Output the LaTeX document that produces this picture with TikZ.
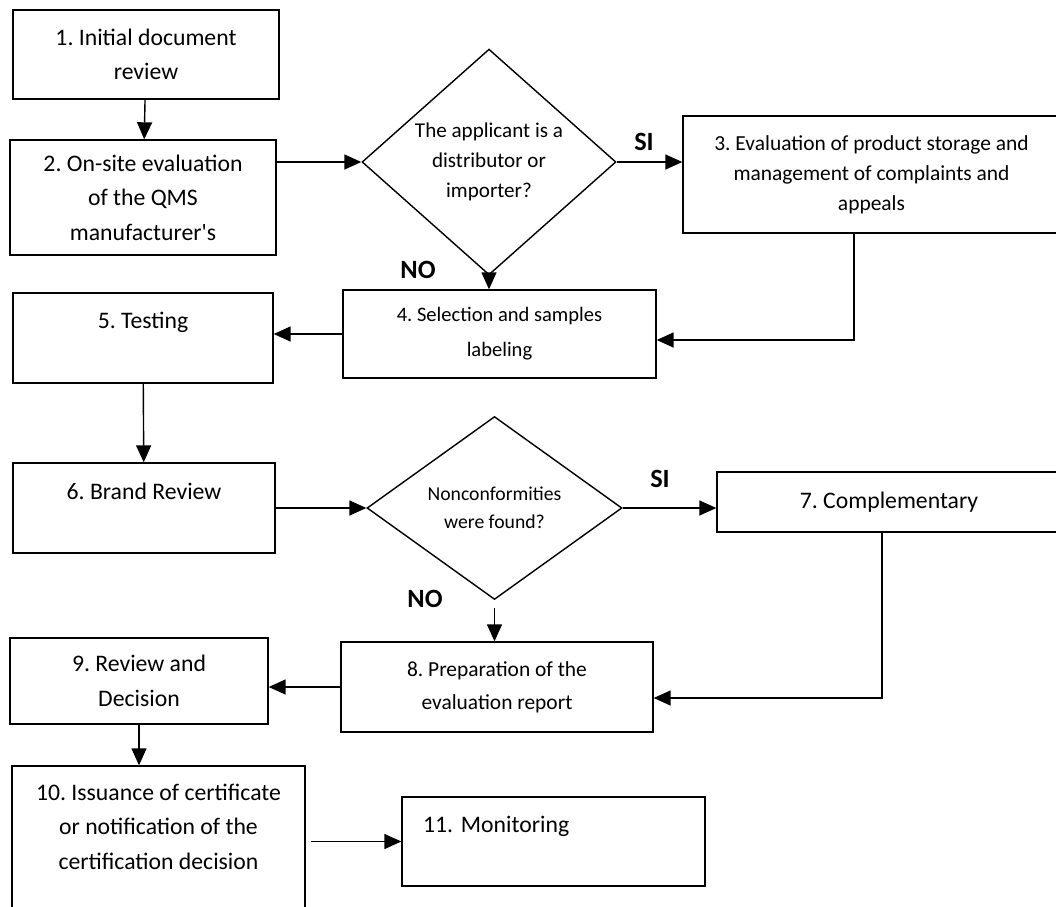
\documentclass[tikz,border=0pt]{standalone}
\usepackage{fontspec}
\setmainfont{Carlito}
\usetikzlibrary{shapes.geometric,arrows.meta}
\frenchspacing

\begin{document}
\begin{tikzpicture}[x=0.02cm,y=-0.02cm,
    every node/.style={inner sep=0pt},
    box/.style={draw, line width=0.8pt, align=center, font=\fontsize{13.5}{19.6}\selectfont},
    smallbox/.style={box, font=\fontsize{12.2}{17.2}\selectfont},
    decision/.style={draw, diamond, line width=0.8pt, align=center, font=\fontsize{12}{17}\selectfont},
    answer/.style={font=\fontsize{15}{18}\selectfont\bfseries},
    arr/.style={-{Triangle[length=0.34cm,width=0.3cm]}, line width=0.8pt}]
      \useasboundingbox (0,0) rectangle (1056,907);

      \node[box, minimum width=5.32cm, minimum height=1.78cm] (initial) at (146,54.5) {1. Initial document\\review};
      \node[box, minimum width=5.32cm, minimum height=2.3cm] (onsite) at (143,197.5) {2. On-site evaluation\\of the QMS\\manufacturer\textquotesingle s};
      \node[decision, minimum width=5.08cm, minimum height=3.64cm] (distributor) at (489,162) {The applicant is a\\distributor or\\importer?};
      \node[smallbox, minimum width=7.54cm, minimum height=2.34cm] (storage) at (871.5,174.5) {3. Evaluation of product storage and\\management of complaints and\\appeals};
      \node[smallbox, font=\fontsize{11.7}{20}\selectfont, minimum width=6.26cm, minimum height=1.76cm] (samples) at (499.5,334) {4. Selection and samples\\labeling};
      \node[box, minimum width=5.2cm, minimum height=1.8cm] (testing) at (143,338) {5. Testing\\~};
      \node[box, minimum width=5.24cm, minimum height=1.8cm] (brand) at (144,508) {6. Brand Review\\~};
      \node[decision, font=\fontsize{11.2}{15.8}\selectfont, minimum width=5.1cm, minimum height=3.66cm] (nonconf) at (494.5,508) {Nonconformities\\were found?};
      \node[box, minimum width=6.88cm, minimum height=1.2cm] (complementary) at (889,502) {7. Complementary};
      \node[smallbox, font=\fontsize{12.2}{18.8}\selectfont, minimum width=6.24cm, minimum height=1.8cm] (report) at (497,687) {8. Preparation of the\\evaluation report};
      \node[box, minimum width=5.16cm, minimum height=1.72cm] (review) at (139,681) {9. Review and\\Decision};
      \node[box, minimum width=5.86cm, minimum height=3.12cm] (issuance) at (158.5,844) {10. Issuance of certificate\\or notification of the\\certification decision\\~};
      \node[box, align=left, text width=5.22cm, inner xsep=0.42cm, minimum height=1.78cm] (monitoring) at (553.5,841.5) {11. Monitoring\\~};

      \node[answer] (yes1) at (644,142) {SI};
      \node[answer] (no1) at (418,270) {NO};
      \node[answer] (yes2) at (660,479) {SI};
      \node[answer] (no2) at (425,599) {NO};

      \draw[arr] (initial) -- (onsite);
      \draw[arr] (onsite.east |- distributor.west) -- (distributor.west);
      \draw[arr] (distributor.east) -- (distributor.east -| storage.west);
      \draw[arr] (distributor.south) -- (distributor.south |- samples.north);
      \draw[arr] ([xshift=-0.35cm]storage.south) |- ([yshift=-0.12cm]samples.east);
      \draw[arr] (samples.west) -- (samples.west -| testing.east);
      \draw[arr] (testing) -- (brand);
      \draw[arr] (brand.east) -- (nonconf.west);
      \draw[arr] (nonconf.east) -- (nonconf.east -| complementary.west);
      \draw[arr, shorten <=0.16cm] (nonconf.south) -- (nonconf.south |- report.north);
      \draw[arr] ([xshift=-0.14cm]complementary.south) |- ([yshift=-0.22cm]report.east);
      \draw[arr] (report.west) -- (report.west -| review.east);
      \draw[arr] (review.south) -- (review.south |- issuance.north);
      \draw[arr, shorten <=0.1cm] (issuance.east |- monitoring.west) -- (monitoring.west);
    \end{tikzpicture}
\end{document}
